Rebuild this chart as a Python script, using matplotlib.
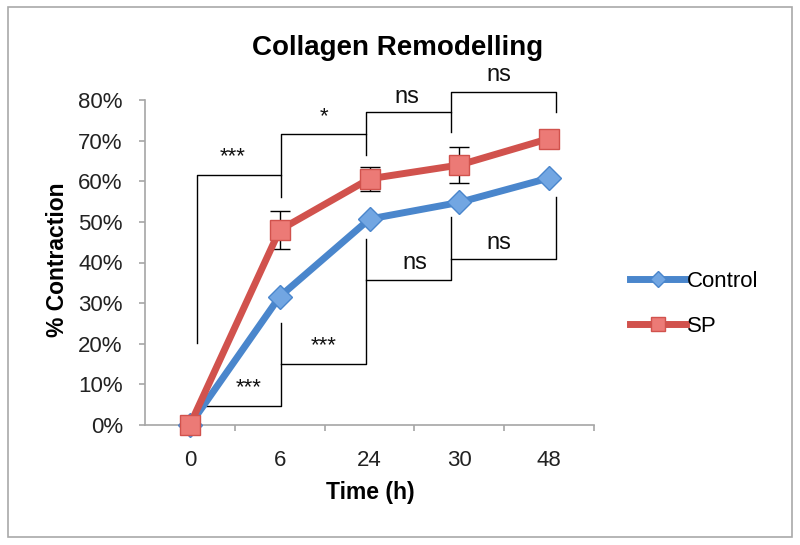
import matplotlib
matplotlib.use("Agg")
import matplotlib.pyplot as plt
import numpy as np
from matplotlib.patches import Rectangle
from matplotlib.ticker import FuncFormatter

plt.rcParams["font.family"] = ["Liberation Sans", "DejaVu Sans"]

# data (percent contraction)
time_labels = ["0", "6", "24", "30", "48"]
control = [0.0, 31.6, 50.7, 54.8, 60.8]
sp = [0.0, 48.0, 60.6, 64.0, 70.5]
sp_err = [0.0, 4.6, 3.0, 4.4, 0.0]

# significance brackets: SP comparisons above, Control comparisons below
bracket_x = [(0.08, 1.01), (1.01, 1.96), (1.96, 2.91), (2.91, 4.08)]
upper_top = [61.6, 71.7, 77.1, 82.0]
upper_left_end = [20.2, 61.6, 71.7, 77.1]
upper_right_end = [56.2, 66.5, 72.2, 77.1]
upper_labels = ["***", "*", "ns", "ns"]
upper_label_pos = [(0.48, 66.0), (1.49, 76.0), (2.42, 80.8), (3.44, 86.2)]

lower_bottom = [4.7, 15.0, 35.7, 40.9]
lower_right_end = [25.1, 45.8, 51.2, 56.2]
lower_labels = ["***", "***", "ns", "ns"]
lower_label_pos = [(0.65, 9.1), (1.49, 19.4), (2.51, 39.9), (3.44, 44.8)]

BLUE = "#4a86cc"
BLUE_FILL = "#72a6e2"
RED = "#d1524d"
RED_FILL = "#ec7a76"
GRAY = "#a6a6a6"

fig = plt.figure(figsize=(8, 5.45), dpi=100)
fig.patches.append(Rectangle((8 / 800, 8 / 545), 784 / 800, 530 / 545,
                             transform=fig.transFigure, fill=False,
                             edgecolor="#a9a9a9", linewidth=1.2))

ax = fig.add_axes([145 / 800, 1 - 425 / 545, 449 / 800, 325 / 545])
x = np.arange(len(time_labels))

ax.errorbar(x, sp, yerr=sp_err, fmt="none", ecolor="black", elinewidth=1,
            capsize=7, capthick=1, zorder=2)
ax.plot(x, control, color=BLUE, linewidth=5, marker="D", markersize=12,
        markerfacecolor=BLUE_FILL, markeredgecolor=BLUE, markeredgewidth=1,
        label="Control", clip_on=False, zorder=4)
ax.plot(x, sp, color=RED, linewidth=5, marker="s", markersize=15,
        markerfacecolor=RED_FILL, markeredgecolor=RED, markeredgewidth=1,
        label="SP", clip_on=False, zorder=5)

line_kw = dict(color="black", linewidth=1, clip_on=False, zorder=3)
for (x0, x1), top, le, re in zip(bracket_x, upper_top, upper_left_end, upper_right_end):
    ax.plot([x0, x0, x1, x1], [le, top, top, re], **line_kw)
for (x0, x1), bot, re in zip(bracket_x, lower_bottom, lower_right_end):
    ax.plot([x0, x1, x1], [bot, bot, re], **line_kw)

for lab, (lx, ly) in zip(upper_labels + lower_labels, upper_label_pos + lower_label_pos):
    size = 16 if "*" in lab else 17
    ax.text(lx, ly, lab, ha="center", va="center", fontsize=size, color="#111111")

ax.set_xlim(-0.5, len(time_labels) - 0.5)
ax.set_ylim(0, 80)
ax.set_yticks(np.arange(0, 81, 10))
ax.yaxis.set_major_formatter(FuncFormatter(lambda v, p: f"{v:.0f}%"))
ax.set_xticks(x)
ax.set_xticklabels(time_labels)
ax.set_xticks(np.arange(0.5, len(time_labels), 1), minor=True)

for side in ["top", "right"]:
    ax.spines[side].set_visible(False)
for side in ["left", "bottom"]:
    ax.spines[side].set_color(GRAY)
    ax.spines[side].set_linewidth(1.2)

ax.tick_params(axis="y", direction="out", length=4, width=1.2, color=GRAY,
               labelsize=16, pad=12, labelcolor="#222222")
ax.tick_params(axis="x", which="major", length=0, labelsize=16, pad=18,
               labelcolor="#222222")
ax.tick_params(axis="x", which="minor", direction="out", length=4, width=1.2,
               color=GRAY)

fig.text(0.497, 1 - 48 / 545, "Collagen Remodelling", ha="center", va="center",
         fontsize=20, fontweight="bold")
fig.text(58 / 800, 1 - 260 / 545, "% Contraction", ha="center", va="center",
         rotation=90, fontsize=16.5, fontweight="bold")
fig.text(370 / 800, 1 - 492 / 545, "Time (h)", ha="center", va="center",
         fontsize=16.5, fontweight="bold")

leg = ax.legend(loc="center left", bbox_to_anchor=(610 / 800, 1 - 304 / 545),
                bbox_transform=fig.transFigure, frameon=False, fontsize=16,
                handlelength=2.5, handletextpad=0.05, labelspacing=1.1,
                markerscale=0.65)

fig.savefig("out.png", dpi=100)
